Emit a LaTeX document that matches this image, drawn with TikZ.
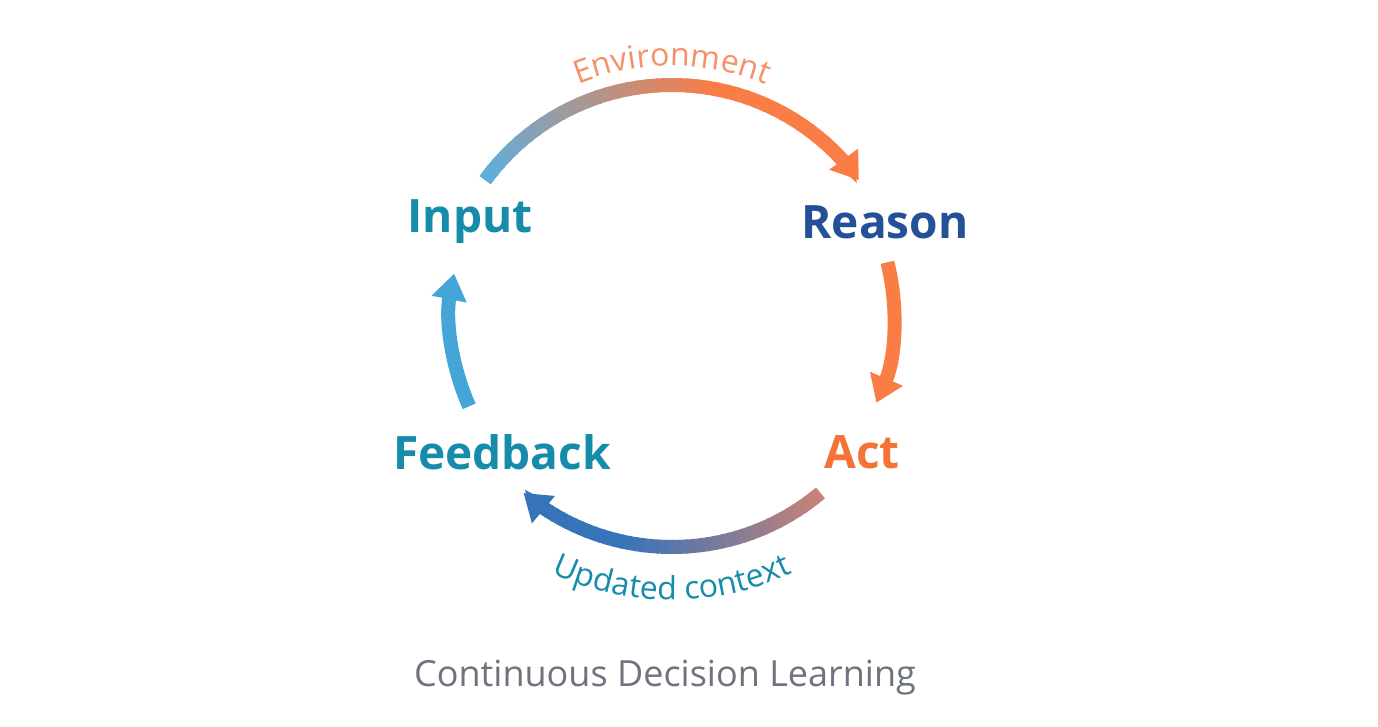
\documentclass[tikz,border=0pt]{standalone}
\usepackage{fontspec}
\setmainfont{Open Sans}
\usetikzlibrary{arrows.meta,decorations.text}
\definecolor{lblue}{RGB}{95,175,220}
\definecolor{sblue}{RGB}{70,165,215}
\definecolor{dblue}{RGB}{55,115,185}
\definecolor{orng}{RGB}{250,125,70}
\definecolor{pinkb}{RGB}{200,130,120}
\definecolor{tealc}{RGB}{20,140,170}
\definecolor{rsnc}{RGB}{35,80,150}
\definecolor{actc}{RGB}{245,115,55}
\definecolor{envc}{RGB}{245,145,105}
\definecolor{titc}{RGB}{110,115,125}
\tikzset{
  lbl/.style={font=\fontsize{46}{50}\selectfont\bfseries},
  seg/.style={line width=14pt,line cap=butt},
  tip/.style={-{Triangle[length=26pt,width=34pt]}}
}
\newcommand{\gradarc}[6]{% start end radius colA colB rate
  \foreach \i in {0,...,39}{
    \pgfmathsetmacro\aa{#1+(#2-#1)*\i/40}
    \pgfmathsetmacro\bb{#1+(#2-#1)*(\i+1.3)/40}
    \pgfmathsetmacro\pp{max(0,100-\i*#6)}
    \colorlet{cc}{#4!\pp!#5}
    \draw[seg,cc] ([shift={(\aa:#3)}]ctr) arc[start angle=\aa,end angle=\bb,radius=#3];
  }
}
\begin{document}
\begin{tikzpicture}[x=1pt,y=1pt]
\useasboundingbox[fill=white] (0,0) rectangle (1378,726);
\coordinate (ctr) at (672,410);
% top arc
\gradarc{144}{44}{231}{lblue}{orng}{4}
\draw[seg,orng,tip] ([shift={(44:231)}]ctr) arc[start angle=44,end angle=36,radius=231];
% right arc
\draw[seg,orng,tip] ([shift={(14:222)}]ctr) arc[start angle=14,end angle=-23,radius=222];
% bottom arc
\gradarc{-50}{-122}{231}{pinkb}{dblue}{3.5}
\draw[seg,dblue,tip] ([shift={(-122:231)}]ctr) arc[start angle=-122,end angle=-130,radius=231];
% left arc
\draw[seg,sblue,tip] ([shift={(204:222)}]ctr) arc[start angle=204,end angle=169,radius=222];
% labels
\node[lbl,text=tealc] (input) at (470,504) {Input};
\node[lbl,text=rsnc] (reason) at (885,504) {Reason};
\node[lbl,text=tealc] (feedback) at (502,274) {Feedback};
\node[lbl,text=actc] (act) at (862,274) {Act};
\path[decorate,decoration={text along path,text={|\fontsize{32}{36}\selectfont\color{envc}|Environment},text align=center}]
  ([shift={(115:250)}]ctr) arc[start angle=115,end angle=65,radius=250];
\path[decorate,decoration={text along path,text={|\fontsize{32}{36}\selectfont\color{tealc}|Updated context},text align=center}]
  ([shift={(-120:284)}]ctr) arc[start angle=-120,end angle=-60,radius=284];
\node[font=\fontsize{36}{40}\selectfont,text=titc] (title) at (665,48) {Continuous Decision Learning};
\end{tikzpicture}
\end{document}
